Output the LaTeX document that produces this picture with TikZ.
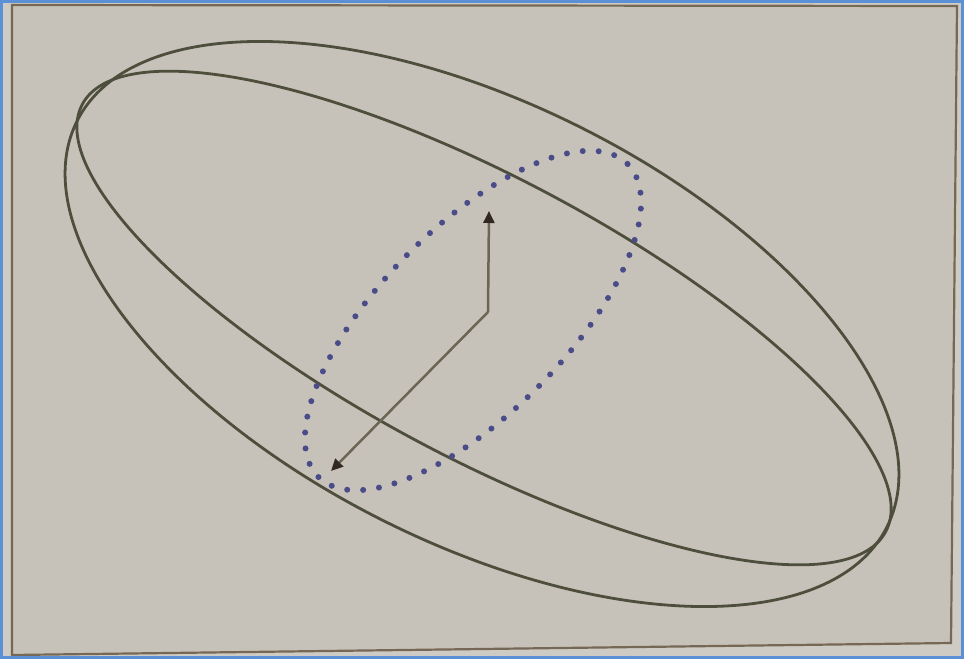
\documentclass[tikz,border=0pt]{standalone}
\usetikzlibrary{arrows.meta}
\definecolor{paper}{RGB}{199,194,185}
\definecolor{paperout}{RGB}{206,203,196}
\definecolor{frameline}{RGB}{118,104,84}
\definecolor{bluebord}{RGB}{91,143,214}
\definecolor{curve}{RGB}{78,78,60}
\definecolor{dotcol}{RGB}{74,76,138}
\definecolor{arrline}{RGB}{108,100,84}
\definecolor{arrtip}{RGB}{50,40,34}
\tikzset{
  outline/.style={draw=curve, line width=2.8pt},
  dotring/.style={draw=dotcol, line width=6pt, line cap=round, dash pattern=on 0pt off 16pt},
  vec/.style={draw=arrline, line width=2.5pt, -{Triangle[length=12pt,width=11pt,color=arrtip]}}
}
\begin{document}
\begin{tikzpicture}[x=1pt,y=-1pt]
\useasboundingbox (0,0) rectangle (964,659);
% page background and frame
\fill[paperout] (0,0) rectangle (964,659);
\fill[paper] (12,5) -- (957,6) -- (951,643) -- (12,655) -- cycle;
\draw[frameline, line width=2.2pt] (12,5) -- (957,6) -- (951,643) -- (12,655) -- cycle;
\draw[bluebord, line width=3pt] (1.5,1.5) rectangle (962.5,657.5);
% outer ellipse A
\begin{scope}[shift={(482,324)}, rotate=-26.6]
  \draw[outline] (0,0) ellipse [x radius=453pt, y radius=220pt];
\end{scope}
% inner ellipse B
\begin{scope}[shift={(484,318)}, rotate=-28]
  \draw[outline] (0,0) ellipse [x radius=455pt, y radius=140pt];
\end{scope}
% dotted ellipse
\begin{scope}[shift={(473,320.5)}, rotate=45.4]
  \draw[dotring] (0,0) ellipse [x radius=220pt, y radius=93pt];
\end{scope}
% vectors
\coordinate (O) at (488,312);
\coordinate (T1) at (489,211);
\coordinate (T2) at (331,471);
\draw[vec] (O) -- (T1);
\draw[vec] (O) -- (T2);
\end{tikzpicture}
\end{document}
